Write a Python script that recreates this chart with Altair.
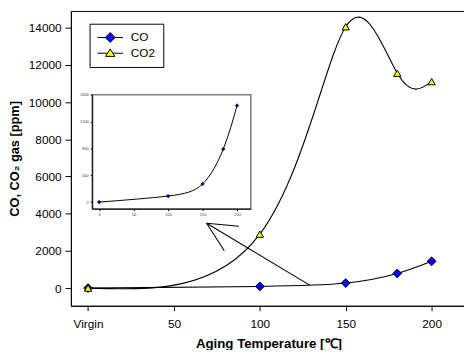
import altair as alt
import pandas as pd

# ---- data ----
temps = [0, 100, 150, 180, 200]
co_ppm = [0, 90, 270, 790, 1440]
co2_ppm = [0, 2900, 14050, 11550, 11100]
series_names = ["CO", "CO2"]
series_fill = ["#0000ff", "#ffff00"]

x_ticks = [0, 50, 100, 150, 200]
y_ticks = [0, 2000, 4000, 6000, 8000, 10000, 12000, 14000]
inset_x_ticks = [0, 50, 100, 150, 200]
inset_y_ticks = [0, 200, 400, 600, 800, 1000, 1200, 1400, 1600]

# arrow (from CO curve towards the inset): tip and the three strokes' far ends
arrow_tip_x = [69.0, 69.0, 69.0]
arrow_tip_y = [3488, 3488, 3488]
arrow_end_x = [129.0, 87.8, 79.3]
arrow_end_y = [159, 3329, 2008]

main_x_domain = [-10, 220]
main_y_domain = [-950, 14900]
inset_x_domain = [-10, 220]
inset_y_domain = [-100, 1600]

FONT = "Liberation Sans"

long_df = pd.DataFrame(
    {
        "temp": temps * 2,
        "ppm": co_ppm + co2_ppm,
        "series": [series_names[0]] * len(temps) + [series_names[1]] * len(temps),
    }
)
co_df = pd.DataFrame({"temp": temps, "ppm": co_ppm})
co2_df = pd.DataFrame({"temp": temps, "ppm": co2_ppm})
arrow_df = pd.DataFrame(
    {"x": arrow_tip_x, "y": arrow_tip_y, "x2": arrow_end_x, "y2": arrow_end_y}
)
frame_df = pd.DataFrame(
    {
        "x": [inset_x_domain[0]],
        "x2": [inset_x_domain[1]],
        "y": [inset_y_domain[0]],
        "y2": [inset_y_domain[1]],
    }
)

xs = alt.Scale(domain=main_x_domain, nice=False, zero=False)
ys = alt.Scale(domain=main_y_domain, nice=False, zero=False)

x_axis = alt.Axis(
    values=x_ticks,
    format="d",
    labelExpr="datum.value == 0 ? 'Virgin' : datum.label",
    title="Aging Temperature [℃]",
    grid=False,
    tickSize=5,
    labelPadding=8,
    labelFontSize=12,
    titleFontSize=13.5,
    titleFontWeight="bold",
    titlePadding=7,
    domainColor="black",
    tickColor="black",
    labelColor="black",
    titleColor="black",
)
y_axis = alt.Axis(
    values=y_ticks,
    format="d",
    title="CO, CO₂ gas [ppm]",
    grid=False,
    tickSize=6,
    labelPadding=4,
    labelFontSize=12,
    titleFontSize=13,
    titleFontWeight="bold",
    titlePadding=7,
    domainColor="black",
    tickColor="black",
    labelColor="black",
    titleColor="black",
)

co_shape = "M-2.6,0L-1,0M1,0L2.6,0M0,-1L1,0L0,1L-1,0Z"
co2_shape = "M-2.6,0L-0.55,0M0.55,0L2.6,0M0,-0.85L0.95,0.65L-0.95,0.65Z"

legend = alt.Legend(
    title=None,
    orient="none",
    legendX=19,
    legendY=13,
    padding=8,
    rowPadding=2,
    symbolSize=100,
    symbolOffset=7,
    labelOffset=15,
    labelFontSize=12,
    labelFont=FONT,
    labelColor="black",
    strokeColor="black",
    fillColor="white",
    symbolStrokeWidth=1,
    symbolOpacity=1,
)

lines = (
    alt.Chart(long_df)
    .mark_line(interpolate="natural", strokeWidth=1.1, color="black")
    .encode(
        x=alt.X("temp:Q", scale=xs, axis=x_axis),
        y=alt.Y("ppm:Q", scale=ys, axis=y_axis),
        detail="series:N",
    )
)

legend_layer = (
    alt.Chart(long_df)
    .mark_point(filled=False, strokeWidth=1, opacity=0)
    .encode(
        x=alt.X("temp:Q", scale=xs),
        y=alt.Y("ppm:Q", scale=ys),
        shape=alt.Shape(
            "series:N",
            scale=alt.Scale(domain=series_names, range=[co_shape, co2_shape]),
            legend=legend,
        ),
        fill=alt.Fill(
            "series:N",
            scale=alt.Scale(domain=series_names, range=series_fill),
            legend=legend,
        ),
        stroke=alt.Stroke(
            "series:N",
            scale=alt.Scale(domain=series_names, range=["black", "black"]),
            legend=legend,
        ),
    )
    .transform_filter("false")
)

co_points = (
    alt.Chart(co_df)
    .mark_point(
        shape="diamond", filled=True, fill="#0000ff", stroke="black",
        strokeWidth=1, size=80, opacity=1,
    )
    .encode(x=alt.X("temp:Q", scale=xs), y=alt.Y("ppm:Q", scale=ys))
)
co2_points = (
    alt.Chart(co2_df)
    .mark_point(
        shape="triangle-up", filled=True, fill="#ffff00", stroke="black",
        strokeWidth=1, size=55, opacity=1,
    )
    .encode(x=alt.X("temp:Q", scale=xs), y=alt.Y("ppm:Q", scale=ys))
)

arrow = (
    alt.Chart(arrow_df)
    .mark_rule(color="black", strokeWidth=1.1)
    .encode(
        x=alt.X("x:Q", scale=xs),
        y=alt.Y("y:Q", scale=ys),
        x2="x2:Q",
        y2="y2:Q",
    )
)

main = alt.layer(lines, arrow, co_points, co2_points, legend_layer)

# ---- inset ----
ixs = alt.Scale(domain=inset_x_domain, range=[21.7, 183.1], nice=False, zero=False)
iys = alt.Scale(domain=inset_y_domain, range=[201.3, 85.3], nice=False, zero=False)

ix_axis = alt.Axis(
    values=inset_x_ticks, format="d", title=None, grid=False, orient="bottom",
    offset=-98.7, tickSize=2, labelPadding=2, labelFontSize=4, labelOverlap=False,
    domainColor="black", tickColor="black", labelColor="#444444", zindex=2,
)
iy_axis = alt.Axis(
    values=inset_y_ticks, format="d", title=None, grid=False, orient="left",
    offset=-21.7, tickSize=2, labelPadding=2, labelFontSize=4, labelOverlap=False,
    domainColor="black", tickColor="black", labelColor="#444444", zindex=2,
)

inset_frame = (
    alt.Chart(frame_df)
    .mark_rect(fill="white", stroke="#808080", strokeWidth=1.6)
    .encode(
        x=alt.X("x:Q", scale=ixs, axis=ix_axis),
        x2="x2:Q",
        y=alt.Y("y:Q", scale=iys, axis=iy_axis),
        y2="y2:Q",
    )
)
inset_line = (
    alt.Chart(co_df)
    .mark_line(interpolate="natural", color="black", strokeWidth=1)
    .encode(x=alt.X("temp:Q", scale=ixs), y=alt.Y("ppm:Q", scale=iys))
)
inset_points = (
    alt.Chart(co_df)
    .mark_point(
        shape="diamond", filled=True, fill="#0000aa", stroke="black",
        strokeWidth=0.5, size=14, opacity=1,
    )
    .encode(x=alt.X("temp:Q", scale=ixs), y=alt.Y("ppm:Q", scale=iys))
)
inset = alt.layer(inset_frame, inset_line, inset_points)

chart = (
    alt.layer(main, inset)
    .resolve_scale(x="independent", y="independent")
    .properties(
        width=402,
        height=300,
        autosize=alt.AutoSizeParams(type="none"),
        padding={"left": 64, "top": 0, "right": -2, "bottom": 42},
    )
    .configure(font=FONT)
    .configure_view(stroke="black", strokeWidth=1)
    .configure_axis(labelFont=FONT, titleFont=FONT)
)

chart.save("out.html", embed_options={"renderer": "svg", "actions": False})
